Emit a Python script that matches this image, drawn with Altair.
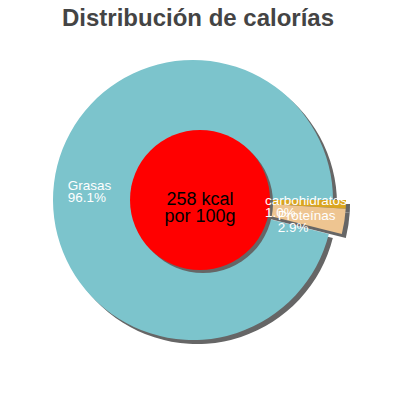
import math
import altair as alt
import pandas as pd

# ---- data -------------------------------------------------------------
title_text = "Distribución de calorías"
categories = ["carbohidratos", "Proteínas", "Grasas"]
percentages = [1.0, 2.9, 96.1]
slice_colors = ["#DAA520", "#EEC591", "#7CC4CC"]
exploded = [True, True, False]
center_lines = ["258 kcal", "por 100g"]

df = pd.DataFrame({
    "cat": categories,
    "pct": percentages,
    "order": list(range(len(categories))),
    "exploded": exploded,
})
center_df = pd.DataFrame({"txt": ["\n".join(center_lines)]})
title_df = pd.DataFrame({"txt": [title_text]})

# ---- layout / style ---------------------------------------------------
TOP = 10                   # top padding (room for the title's ascent)
W, H = 384, 384 - TOP
CX, CY = 185, 192 - TOP    # pie centre
R = 140                    # pie radius
EX, EY = 13, 0             # explosion offset of small slices
SH = 4                     # drop shadow offset
ICX, ICY, IR = 192, 192 - TOP, 70  # inner red disc
SHADOW = "#666666"
FONT = "Liberation Sans"
label_offsets = {"Grasas": (-21, -1), "carbohidratos": (-46, -2), "Proteínas": (-32, 0)}

theta_scale = alt.Scale(domain=[0, 100], range=[math.pi / 2, math.pi / 2 + 2 * math.pi])
color_scale = alt.Scale(domain=categories, range=slice_colors)

base = alt.Chart(df).transform_window(
    cum="sum(pct)", sort=[alt.SortField("order")]
).transform_calculate(
    start="datum.cum - datum.pct",
    mid="datum.cum - datum.pct / 2",
    label="datum.cat + '\\n' + format(datum.pct, '.1f') + '%'",
)


def arcs(expr, cx, cy, shadow=False):
    color = alt.value(SHADOW) if shadow else alt.Color("cat:N", scale=color_scale, legend=None)
    return base.transform_filter(expr).mark_arc(radius=R).encode(
        theta=alt.Theta("start:Q", scale=theta_scale, stack=None),
        theta2="cum:Q",
        color=color,
        x=alt.value(cx),
        y=alt.value(cy),
    )


layers = [
    arcs("!datum.exploded", CX + SH, CY + SH, shadow=True),
    arcs("!datum.exploded", CX, CY),
    arcs("datum.exploded", CX + EX + SH, CY + EY + SH, shadow=True),
    arcs("datum.exploded", CX + EX, CY + EY),
]

# red inner disc with shadow
disc_size = (2 * IR) ** 2
layers.append(alt.Chart(center_df).mark_circle(size=disc_size, opacity=1, color=SHADOW).encode(
    x=alt.value(ICX + 3), y=alt.value(ICY + 3)))
layers.append(alt.Chart(center_df).mark_circle(size=disc_size, opacity=1, color="#FF0000").encode(
    x=alt.value(ICX), y=alt.value(ICY)))
layers.append(alt.Chart(center_df).mark_text(
    font=FONT, fontSize=18, lineBreak="\n", lineHeight=17, align="center",
    baseline="middle", color="black").encode(
    x=alt.value(ICX), y=alt.value(ICY), text="txt:N"))

# slice labels
for cat, is_exp in zip(categories, exploded):
    dx, dy = label_offsets[cat]
    cx = CX + (EX if is_exp else 0)
    cy = CY + (EY if is_exp else 0)
    layers.append(base.transform_filter(alt.datum.cat == cat).mark_text(
        font=FONT, fontSize=13.5, lineBreak="\n", lineHeight=12, align="left",
        baseline="middle", color="white", dx=dx, dy=dy).encode(
        theta=alt.Theta("mid:Q", scale=theta_scale, stack=None),
        radius=alt.value(0.75 * R),
        x=alt.value(cx), y=alt.value(cy),
        text="label:N"))

# title
layers.append(alt.Chart(title_df).mark_text(
    font=FONT, fontSize=24, fontWeight="bold", color="#444444",
    align="center", baseline="alphabetic").encode(
    x=alt.value(190), y=alt.value(17.5 - TOP), text="txt:N"))

chart = alt.layer(*layers).properties(
    width=W, height=H,
    padding={"left": 0, "top": TOP, "right": 0, "bottom": 0},
    autosize=alt.AutoSizeParams(type="none"),
    background="white",
).configure_view(stroke=None)

chart.save("out.html", embed_options={"renderer": "svg", "actions": False})
